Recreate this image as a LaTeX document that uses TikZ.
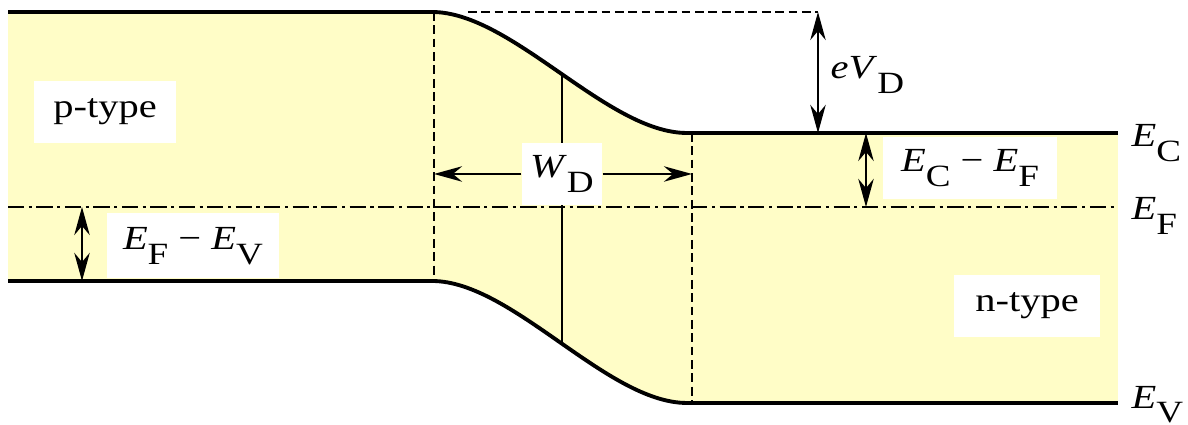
\documentclass[tikz,border=0pt]{standalone}
\usepackage{fontspec}
\setmainfont{Liberation Serif}
\usetikzlibrary{arrows.meta}
\definecolor{bandyellow}{RGB}{255,253,199}
\newcommand{\wide}[1]{\scalebox{1.2}[1]{#1}}
\newcommand{\lvl}[2]{\textit{#1}\raisebox{-4.2pt}{\fontsize{8.8}{9}\selectfont #2}}
\tikzset{
  band/.style = {line width=1.1pt},
  guide/.style = {line width=0.55pt, dash pattern=on 2.5pt off 1.3pt},
  fermi/.style = {line width=0.7pt, dash pattern=on 4.6pt off 1.3pt on 0.9pt off 1.3pt},
  dimarrow/.style = {line width=0.55pt, {Stealth[length=8pt,width=4.4pt]}-{Stealth[length=8pt,width=4.4pt]}},
  dimend/.style = {line width=0.55pt, -{Stealth[length=8pt,width=4.4pt]}},
  tag/.style = {fill=white, inner sep=0pt, minimum height=0.62cm, font=\fontsize{9.6}{11}\selectfont},
  lvllabel/.style = {anchor=west, inner sep=0pt, font=\fontsize{9.6}{11}\selectfont}
}
\begin{document}
\begin{tikzpicture}
  \useasboundingbox (0,0) rectangle (11.88,4.25);
  \coordinate (cbl) at (0.08,4.13);
  \coordinate (cbp) at (4.32,4.13);
  \coordinate (cbn) at (6.87,2.92);
  \coordinate (cbr) at (11.18,2.92);
  \coordinate (vbl) at (0.08,1.44);
  \coordinate (vbp) at (4.32,1.44);
  \coordinate (vbn) at (6.87,0.22);
  \coordinate (vbr) at (11.18,0.22);
  \coordinate (efl) at (0.08,2.18);
  \coordinate (efr) at (11.18,2.18);
  \coordinate (dl) at (4.34,4.13);
  \coordinate (dr) at (6.92,2.92);
  \fill [bandyellow] (cbl) -- (cbp) .. controls +(0.8,0) and +(-0.8,0) .. (cbn) -- (cbr)
    -- (vbr) -- (vbn) .. controls +(-0.8,0) and +(0.8,0) .. (vbp) -- (vbl) -- cycle;
  \draw [guide] (dl) -- (dl |- vbp) (dr) -- (dr |- vbn);
  \draw [fermi] (efl) -- (efr);
  \draw [band] (cbl) -- (cbp) .. controls +(0.8,0) and +(-0.8,0) .. (cbn)
    coordinate [pos=0.51] (cbm) -- (cbr);
  \draw [band] (vbl) -- (vbp) .. controls +(0.8,0) and +(-0.8,0) .. (vbn)
    coordinate [pos=0.51] (vbm) -- (vbr);
  \draw [line width=0.6pt] (cbm) -- (vbm);
  \draw [guide] (4.68,4.13) -- (8.18,4.13) coordinate (vdt);

  \node [tag, minimum width=1.42cm] (ptype) at (1.05,3.13) {\wide{p-type}};
  \node [tag, minimum width=1.46cm] (ntype) at (10.27,1.19) {\wide{n-type}};
  \node [tag, minimum width=1.72cm, minimum height=0.65cm] (efev) at (1.93,1.79)
    {\wide{\lvl{E}{F} − \lvl{E}{V}}};
  \node [tag, minimum width=1.74cm] (ecef) at (9.70,2.57) {\wide{\lvl{E}{C} − \lvl{E}{F}}};
  \node [tag, minimum width=0.80cm] (wd) at (5.62,2.51) {\wide{\lvl{W}{D}}};
  \node [lvllabel] (evd) at (8.30,3.50) {\wide{\lvl{eV}{D}}};
  \node [lvllabel] (ec) at (11.31,2.82) {\wide{\lvl{E}{C}}};
  \node [lvllabel] (ef) at (11.31,2.09) {\wide{\lvl{E}{F}}};
  \node [lvllabel, anchor=south west] (ev) at (11.31,0.01) {\wide{\lvl{E}{V}}};

  \coordinate (ecefa) at (8.66,2.92);
  \coordinate (efeva) at (0.82,2.18);
  \draw [dimarrow] (vdt) -- (vdt |- cbr);
  \draw [dimarrow] (ecefa) -- (ecefa |- efr);
  \draw [dimarrow] (efeva) -- (efeva |- vbl);
  \draw [dimend] (wd.west) -- (wd.west -| dl);
  \draw [dimend] (wd.east) -- (wd.east -| dr);
\end{tikzpicture}
\end{document}
